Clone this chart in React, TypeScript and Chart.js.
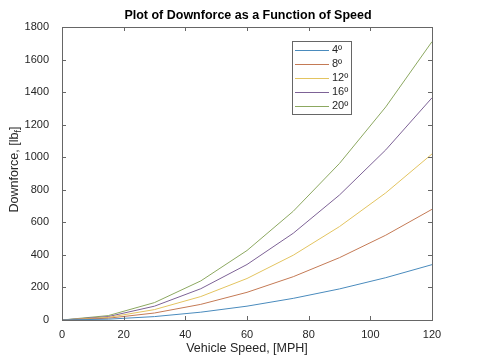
import React, { useEffect, useRef } from "react";
import { Chart, registerables } from "chart.js";

Chart.register(...registerables);

const speeds = [0, 15, 30, 45, 60, 75, 90, 105, 120];
const seriesLabels = ["4º", "8º", "12º", "16º", "20º"];
const deg4 = [0, 5, 21, 48, 85, 133, 191, 260, 340];
const deg8 = [0, 11, 43, 96, 170, 266, 383, 521, 680];
const deg12 = [0, 16, 64, 144, 255, 398, 574, 781, 1020];
const deg16 = [0, 21, 85, 192, 341, 533, 768, 1045, 1365];
const deg20 = [0, 27, 107, 240, 427, 668, 962, 1309, 1710];
const seriesColors = ["#4a8bbd", "#c47a55", "#e3c460", "#7d6296", "#8ca860"];
const xTicks = [0, 20, 40, 60, 80, 100, 120];
const yTicks = [0, 200, 400, 600, 800, 1000, 1200, 1400, 1600, 1800];

const titleText = "Plot of Downforce as a Function of Speed";
const xTitle = "Vehicle Speed, [MPH]";
const yTitleMain = "Downforce, [lb";
const yTitleSub = "f";
const yTitleEnd = "]";

const FONT = "Liberation Sans, Arial, sans-serif";
const AX = "#666666";
const TXT = "#262626";

const decorPlugin = {
  id: "decor",
  afterDraw(chart: any) {
    const ctx = chart.ctx;
    const a = chart.chartArea;
    const xs = chart.scales.x;
    const ys = chart.scales.y;
    ctx.save();
    ctx.strokeStyle = AX;
    ctx.lineWidth = 1;
    ctx.strokeRect(Math.round(a.left) + 0.5, Math.round(a.top) + 0.5, Math.round(a.right - a.left), Math.round(a.bottom - a.top));
    const tl = 4;
    ctx.beginPath();
    xTicks.forEach((v) => {
      const px = Math.round(xs.getPixelForValue(v)) + 0.5;
      ctx.moveTo(px, a.bottom);
      ctx.lineTo(px, a.bottom - tl);
      ctx.moveTo(px, a.top);
      ctx.lineTo(px, a.top + tl);
    });
    yTicks.forEach((v) => {
      const py = Math.round(ys.getPixelForValue(v)) + 0.5;
      ctx.moveTo(a.left, py);
      ctx.lineTo(a.left + tl, py);
      ctx.moveTo(a.right, py);
      ctx.lineTo(a.right - tl, py);
    });
    ctx.stroke();

    ctx.fillStyle = "#000";
    ctx.font = `bold 12.5px ${FONT}`;
    ctx.textAlign = "center";
    ctx.textBaseline = "middle";
    ctx.fillText(titleText, 248, 16);

    ctx.fillStyle = TXT;
    ctx.font = `12.5px ${FONT}`;
    ctx.fillText(xTitle, (a.left + a.right) / 2, 349);

    ctx.save();
    ctx.translate(15, (a.top + a.bottom) / 2 - 4);
    ctx.rotate(-Math.PI / 2);
    ctx.font = `12.5px ${FONT}`;
    const w1 = ctx.measureText(yTitleMain).width;
    ctx.font = `9px ${FONT}`;
    const w2 = ctx.measureText(yTitleSub).width;
    ctx.font = `12.5px ${FONT}`;
    const w3 = ctx.measureText(yTitleEnd).width;
    const total = w1 + w2 + w3;
    let x0 = -total / 2;
    ctx.textAlign = "left";
    ctx.fillText(yTitleMain, x0, 0);
    x0 += w1;
    ctx.font = `9px ${FONT}`;
    ctx.fillText(yTitleSub, x0, 4);
    x0 += w2;
    ctx.font = `12.5px ${FONT}`;
    ctx.fillText(yTitleEnd, x0, 0);
    ctx.restore();

    const lx = 292, ly = 41, lw = 59, lh = 73;
    ctx.fillStyle = "#fff";
    ctx.fillRect(lx, ly, lw, lh);
    ctx.strokeStyle = AX;
    ctx.strokeRect(lx + 0.5, ly + 0.5, lw, lh);
    ctx.font = `11px ${FONT}`;
    ctx.textAlign = "left";
    ctx.textBaseline = "middle";
    chart.data.datasets.forEach((ds: any, i: number) => {
      const yy = ly + 9 + i * 14;
      ctx.strokeStyle = ds.borderColor;
      ctx.beginPath();
      ctx.moveTo(lx + 3, yy + 0.5);
      ctx.lineTo(lx + 37, yy + 0.5);
      ctx.stroke();
      ctx.fillStyle = TXT;
      ctx.fillText(ds.label, lx + 40, yy);
    });
    ctx.restore();
  },
};

export default function App() {
  const ref = useRef<HTMLCanvasElement>(null);
  useEffect(() => {
    document.body.style.margin = "0";
    const series = [deg4, deg8, deg12, deg16, deg20];
    const chart = new Chart(ref.current!, {
      type: "line",
      data: {
        datasets: series.map((s, i) => ({
          label: seriesLabels[i],
          data: speeds.map((x, j) => ({ x, y: s[j] })),
          borderColor: seriesColors[i],
          backgroundColor: seriesColors[i],
          borderWidth: 1,
          pointRadius: 0,
          tension: 0,
          fill: false,
        })),
      },
      options: {
        animation: false,
        responsive: false,
        layout: { padding: { left: 0, right: 46, top: 27, bottom: 0 } },
        plugins: { legend: { display: false }, title: { display: false }, tooltip: { enabled: false } },
        scales: {
          x: {
            type: "linear",
            min: 0,
            max: 120,
            afterFit: (s: any) => { s.height = 39; },
            afterBuildTicks: (s: any) => { s.ticks = xTicks.map((v) => ({ value: v })); },
            grid: { display: false },
            border: { display: false },
            ticks: { color: TXT, font: { family: FONT, size: 11 }, padding: 0, maxRotation: 0, callback: (v: any) => String(v) },
          },
          y: {
            type: "linear",
            min: 0,
            max: 1800,
            afterFit: (s: any) => { s.width = 62; },
            afterBuildTicks: (s: any) => { s.ticks = yTicks.map((v) => ({ value: v })); },
            grid: { display: false },
            border: { display: false },
            ticks: { color: TXT, font: { family: FONT, size: 11 }, padding: 5, callback: (v: any) => String(v) },
          },
        },
      },
      plugins: [decorPlugin],
    } as any);
    return () => chart.destroy();
  }, []);
  return (
    <div style={{ position: "absolute", left: 0, top: 0, width: 478, height: 359, background: "#fff" }}>
      <canvas ref={ref} width={478} height={359} style={{ display: "block" }} />
    </div>
  );
}
